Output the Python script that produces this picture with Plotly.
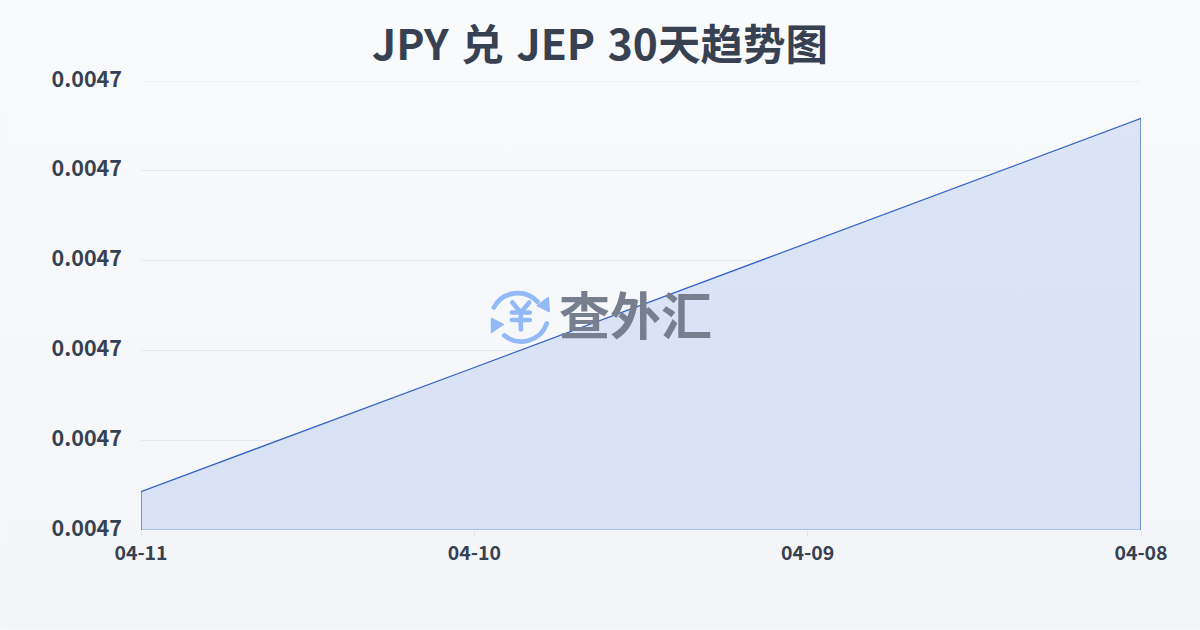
import base64
import plotly.graph_objects as go

dates = ['04-11', '04-10', '04-09', '04-08']
rates = [0.00466428, 0.0046781, 0.0046920, 0.00470583]
y_min = 0.00466
y_max = 0.00471
area_base = 0.00465995

# background gradient and logo icon are plain svg images
bg_svg = ('<svg xmlns="http://www.w3.org/2000/svg" width="1200" height="630">'
          '<defs><linearGradient id="g" x1="0" y1="0" x2="0" y2="1">'
          '<stop offset="0" stop-color="#f9fafc"/><stop offset="1" stop-color="#f3f5f8"/>'
          '</linearGradient></defs><rect width="1200" height="630" fill="url(#g)"/></svg>')
icon_svg = ('<svg xmlns="http://www.w3.org/2000/svg" width="60" height="60" viewBox="0 0 60 60" '
            'fill="none" stroke="#93b9f6" stroke-linecap="round" stroke-linejoin="round">'
            '<path d="M3.5 21 A27 27 0 0 1 47 15" stroke-width="4.8"/>'
            '<path d="M56.5 37 A27 27 0 0 1 14 49" stroke-width="4.8"/>'
            '<path d="M47 19 L58 11 L59 25 Z" fill="#93b9f6" stroke-width="1.5"/>'
            '<path d="M13 38 L1 32 L1 46 Z" fill="#93b9f6" stroke-width="1.5"/>'
            '<path d="M22 16 L30.5 26 L39 16 M21.5 26 H39.5 M21.5 33.5 H39.5 M30.5 26 V43" stroke-width="4.6"/>'
            '</svg>')


def svg_uri(svg):
    return 'data:image/svg+xml;base64,' + base64.b64encode(svg.encode()).decode()


fig = go.Figure()

# closed outline, same as the area edge in the original
fig.add_trace(go.Scatter(
    x=[dates[0]] + dates + [dates[-1], dates[0]],
    y=[area_base] + rates + [area_base, area_base],
    mode='lines',
    fill='toself',
    fillgradient=dict(type='vertical', colorscale=[[0, '#d8e1f5'], [1, '#dbe5f7']]),
    line=dict(color='#2f62c4', width=1.2),
    cliponaxis=False,
    hoverinfo='skip',
    showlegend=False,
))

# plotly drops the gridline that sits on the range end
fig.add_hline(y=y_max, line_color='#e5e7eb', line_width=1, layer='below')

fig.update_layout(
    width=1200,
    height=630,
    margin=dict(l=140.5, r=59, t=80.5, b=99.5),
    paper_bgcolor='#f6f7fa',
    plot_bgcolor='rgba(0,0,0,0)',
    font=dict(family='Noto Sans CJK SC', color='#374151'),
    title=dict(
        text='<b>JPY 兑 JEP 30天趋势图</b>',
        x=0.5, xanchor='center', y=0.928, yanchor='middle',
        font=dict(size=42.5, color='#374151'),
    ),
    images=[
        dict(source=svg_uri(bg_svg), xref='paper', yref='paper', x=-140.5 / 1000.5, y=1 + 80.5 / 450,
             sizex=1200 / 1000.5, sizey=630 / 450, sizing='stretch', layer='below',
             xanchor='left', yanchor='top'),
        dict(source=svg_uri(icon_svg), xref='paper', yref='paper', x=349.5 / 1000.5, y=1 - 206 / 450,
             sizex=60 / 1000.5, sizey=60 / 450, sizing='contain', layer='above',
             xanchor='left', yanchor='top'),
    ],
    annotations=[dict(
        text='<b>查外汇</b>', xref='paper', yref='paper', x=495 / 1000.5, y=1 - 233 / 450,
        xanchor='center', yanchor='middle', showarrow=False,
        font=dict(size=51, color='#777f8f', family='Noto Sans CJK SC'),
    )],
)
fig.update_xaxes(
    type='category', categoryorder='array', categoryarray=dates, range=[0, 3],
    showgrid=False, showline=False, zeroline=False,
    ticks='outside', ticklen=6, tickcolor='#e5e7eb',
    tickfont=dict(size=19.5, color='#374151', weight='bold'),
)
fig.update_yaxes(
    range=[y_min, y_max], dtick=0.00001, tick0=y_min, tickformat='.4f',
    showgrid=True, gridcolor='#e5e7eb', gridwidth=1, zeroline=False, showline=False,
    ticks='', ticklabelstandoff=18,
    tickfont=dict(size=21.5, color='#374151', weight='bold'),
)

# page margin off, title word gaps and y label nudge have no plotly option
post = """
document.body.style.margin = '0';
document.querySelector('.gtitle').style.wordSpacing = '3px';
document.querySelectorAll('.ytick text').forEach(t => t.setAttribute('dy', '-2'));
"""
fig.write_html('out.html', post_script=post, config={'displayModeBar': False})
